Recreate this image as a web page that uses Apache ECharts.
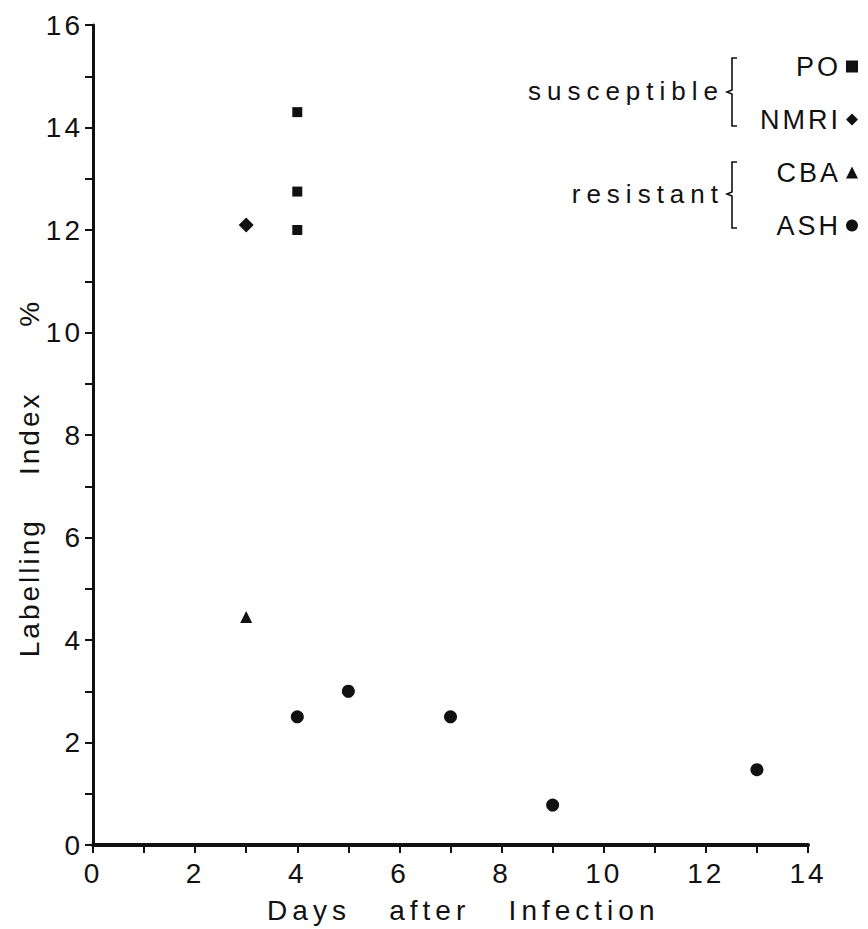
<!DOCTYPE html>
<html>
<head>
<meta charset="utf-8">
<script src="https://cdn.jsdelivr.net/npm/echarts@6/dist/echarts.min.js"></script>
<style>
  html, body { margin: 0; padding: 0; background: #fff; }
  #chart { width: 868px; height: 929px; }
  #chart text { letter-spacing: 3px; white-space: pre; }
  #chart text[style*="Helvetica"], #chart text[font-family*="Helvetica"] { letter-spacing: 6px; }
  #chart text[style*="Verdana"], #chart text[font-family*="Verdana"] { letter-spacing: 5px; }
</style>
</head>
<body>
<div id="chart"></div>
<script>
// ---- data ----
const xTicks = [0, 2, 4, 6, 8, 10, 12, 14];
const yTicks = [0, 2, 4, 6, 8, 10, 12, 14, 16];
const seriesNames = ['PO', 'NMRI', 'CBA', 'ASH'];
const poData   = [[4, 14.3], [4, 12.75], [4, 12.0]];
const nmriData = [[3, 12.1]];
const cbaData  = [[3, 4.45]];
const ashData  = [[4, 2.5], [5, 3.0], [7, 2.5], [9, 0.78], [13, 1.47]];
const groupLabels = ['susceptible', 'resistant'];
const xTitle = 'Days   after   Infection';
const yTitle = 'Labelling    Index      %';

const INK = '#111111';
const FONT = "'Liberation Sans', Arial, sans-serif";
const FONT_X = "'Liberation Sans', Verdana, sans-serif";

const chart = echarts.init(document.getElementById('chart'), null, { renderer: 'svg' });

function bracket(yTop, yBot, yMid) {
  const x = 732;
  return {
    type: 'polyline',
    shape: { points: [[737, yTop], [x, yTop], [x, yMid - 2], [727, yMid], [x, yMid + 2], [x, yBot], [737, yBot]] },
    style: { stroke: INK, lineWidth: 1.6, fill: null }
  };
}

const option = {
  backgroundColor: '#ffffff',
  animation: false,
  textStyle: { fontFamily: FONT, color: INK },
  grid: { left: 93, right: 60, top: 25, bottom: 84, containLabel: false },
  xAxis: {
    type: 'value', min: xTicks[0], max: xTicks[xTicks.length - 1], interval: 2,
    name: '  ' + xTitle, nameLocation: 'middle', nameGap: 51, nameMoveOverlap: false,
    nameTextStyle: { fontSize: 28, color: INK, fontFamily: FONT_X, verticalAlign: 'top' },
    axisLine: { show: true, onZero: false, lineStyle: { color: INK, width: 4 } },
    axisTick: { show: true, inside: false, length: 8, lineStyle: { color: INK, width: 2 } },
    minorTick: { show: true, splitNumber: 2, length: 8, lineStyle: { color: INK, width: 2 } },
    axisLabel: { fontSize: 28, color: INK, margin: 14, fontFamily: FONT },
    splitLine: { show: false }, minorSplitLine: { show: false }
  },
  yAxis: {
    type: 'value', min: yTicks[0], max: yTicks[yTicks.length - 1], interval: 2,
    name: yTitle + '        ', nameLocation: 'middle', nameGap: 50, nameRotate: 90, nameMoveOverlap: false,
    nameTextStyle: { fontSize: 28, color: INK, fontFamily: FONT },
    axisLine: { show: true, onZero: false, lineStyle: { color: INK, width: 3 } },
    axisTick: { show: true, inside: false, length: 8, lineStyle: { color: INK, width: 2 } },
    minorTick: { show: true, splitNumber: 2, length: 8, lineStyle: { color: INK, width: 2 } },
    axisLabel: { fontSize: 28, color: INK, margin: 10, fontFamily: FONT },
    splitLine: { show: false }, minorSplitLine: { show: false }
  },
  legend: {
    orient: 'vertical', right: 5, top: 48, align: 'right',
    itemWidth: 12, itemHeight: 12, itemGap: 26,
    textStyle: { fontSize: 27, color: INK, fontFamily: FONT },
    data: seriesNames
  },
  graphic: [
    { type: 'text', x: 724, y: 91, style: { text: groupLabels[0], font: "26px 'Liberation Sans', Helvetica, sans-serif", fill: INK, textAlign: 'right', textVerticalAlign: 'middle' } },
    { type: 'text', x: 724, y: 194, style: { text: groupLabels[1], font: "26px 'Liberation Sans', Helvetica, sans-serif", fill: INK, textAlign: 'right', textVerticalAlign: 'middle' } },
    bracket(58, 126, 92),
    bracket(162, 228, 194)
  ],
  series: [
    { name: seriesNames[0], type: 'scatter', symbol: 'rect', symbolSize: 10, data: poData, itemStyle: { color: INK, opacity: 1 } },
    { name: seriesNames[1], type: 'scatter', symbol: 'diamond', symbolSize: 15, data: nmriData, itemStyle: { color: INK, opacity: 1 } },
    { name: seriesNames[2], type: 'scatter', symbol: 'triangle', symbolSize: 12, data: cbaData, itemStyle: { color: INK, opacity: 1 } },
    { name: seriesNames[3], type: 'scatter', symbol: 'circle', symbolSize: 13, data: ashData, itemStyle: { color: INK, opacity: 1 } }
  ]
};
chart.setOption(option);
</script>
</body>
</html>
